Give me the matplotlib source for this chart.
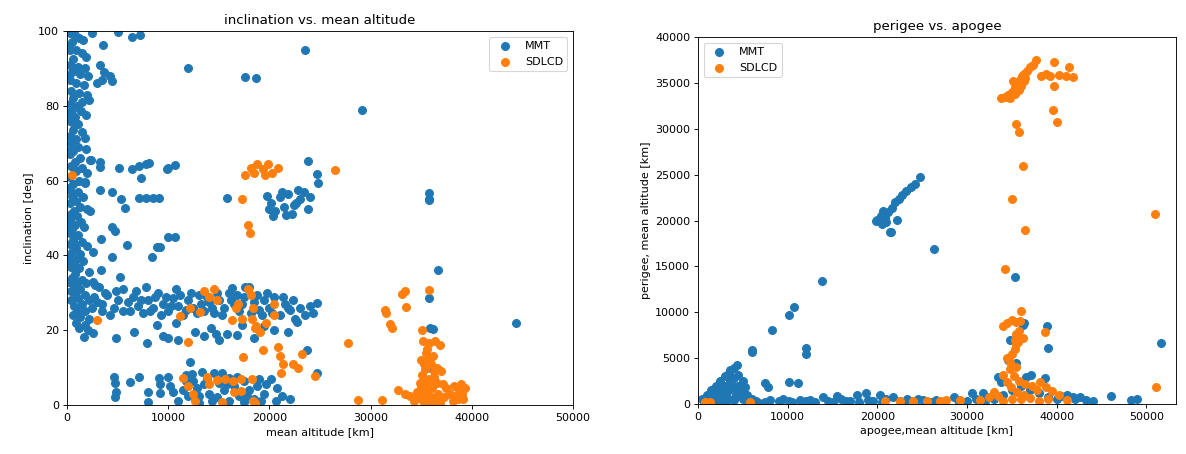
import matplotlib
matplotlib.use("Agg")
import matplotlib.pyplot as plt
import numpy as np

# (mean altitude [km], inclination [deg])
mmt_incl = [
	# low orbit strip
	(300,99.5),(800,99),(1200,98),(500,97),(1600,97.5),(300,95),(900,95),(1500,94),(600,92.5),(1900,93),(300,91),(1100,90.5),(1800,90),
	(500,89),(1300,88.5),(2100,88),(300,87),(900,86),(1700,85.5),(400,84),(1200,83.5),(2000,83),(600,82),(1500,81),(300,80.5),(1000,80),(2200,81.5),
	(500,79),(1400,78.5),(800,77),(1900,77.5),(300,76),(1100,75),(600,73.5),(1500,73),(300,72),(900,71),(1800,71.5),(400,70),
	(1100,69),(600,68),(1900,68.5),(300,67),(1300,66),(800,65),(2400,65.5),(400,64),(1500,63.5),(900,62.5),(2000,62),(300,61),(1200,60),(1800,59.5),
	(600,59),(300,57.5),(1100,57),(500,56),(1600,55.5),(900,54.5),(300,54),(1300,53),(2000,52.5),(700,52),(2300,52),(400,51),(1000,50.5),
	(300,49.5),(1400,49),(800,48),(500,47),(1700,47.5),(300,46),(1100,45.5),(600,44),(1500,43.5),(300,43),(900,42),(2000,42.5),(500,41),(1300,40.5),
	(300,39.5),(1000,39),(700,38),(1600,38.5),(400,37),(1200,36.5),(800,35),(2200,35.5),(500,34),(1500,33.5),(1000,33),(2600,33),(700,32),(1900,32.5),(3200,31.5),(1300,31),(400,30.5),
	(800,30),(1800,29.5),(2700,29),(1100,28.5),(400,28),(2200,28),(1500,27),(3000,27.5),(700,26.5),(2500,26),(1000,25.5),(1800,25),(3500,25),(600,24),(1300,23.5),(2200,23),(900,22),(1800,21.5),(1200,20.5),(2100,20),(1700,18.3),(2600,19.3),
	(200,96),(200,88),(200,78),(200,68),(200,58),(200,48),(200,38),(200,33),(700,90),(700,75),(700,63),(700,43),
	# band 23-32 deg
	(3500,27),(4000,29.5),(4600,26),(5000,28),(5500,25),(6000,27.5),(6500,29),(7000,26.5),(7500,24.5),(8000,28),(8500,26),(9000,30),(9500,27),(10000,25),
	(10500,28.5),(11000,26.5),(11500,24),(12000,28),(12500,26),(13000,29.5),(13500,25),(14000,27.5),(14500,24.5),(15000,28),(15500,26),(16000,30),(16500,27),
	(17000,25),(17500,29),(18000,31.5),(18500,27.5),(19000,25.5),(19500,28),(20000,26),(20500,29),(21000,24),(21500,27),(22000,25.5),(22500,23),(23000,26),
	(24700,27.3),(24300,24.5),(22700,22.3),(10800,30.9),(16300,31.2),(17600,31.5),(5500,31),(7800,31.5),(2800,32),(4200,24),
	(3800,30),(4800,30.5),(6200,25),(6800,30.5),(7300,28),(8200,25),(8700,29),(9300,24),(9800,29),(10300,26.5),(11200,29.5),(11800,25.5),(12300,30),
	(12800,24.5),(13200,27),(13800,29),(14300,26),(14800,30),(15300,24),(16200,28),(16800,29.5),(17300,27),(18200,24.5),(18800,29.5),(19300,24),
	(19800,30),(20300,24.5),(21300,29),(21800,26),(22300,28),(23500,24),(24000,26.5),
	# band 15-22 deg
	(8900,21.4),(10800,21.8),(12600,19.6),(6600,19.6),(4800,17.8),(7900,16.5),(10000,18),(11000,17.5),(13500,18.5),(15000,17.5),(15800,19),(14200,20.5),
	(16800,18.8),(18500,18),(19500,21),(20500,20),(23700,14.7),(12200,11.6),(24700,8.5),(21800,19.5),(9500,18.5),(14700,19),(17300,21.5),
	# band 0-8 deg
	(4600,7.4),(4700,6),(4800,3.5),(4700,2.2),(6200,6.2),(7100,7.4),(8000,3.6),(8000,0.8),(9100,7.1),(9200,5.7),(9200,3.2),(10200,5),(11800,6.5),(12400,8.2),
	(13300,8.8),(14500,8.5),(16000,7.2),(15000,6),(13500,5.5),(14000,3),(12000,2.5),(11000,1),(15500,4),(16500,5),(17000,2.5),(17500,6.5),(18000,4),(18500,1.5),
	(19000,7),(19500,3),(16000,1),(13000,0.5),(20700,1),(22000,1.5),(19700,5.5),(10500,3.5),(12800,4.5),
	(10000,7.5),(11500,4),(12500,6.5),(13800,7),(14800,2),(15800,5.5),(16800,7.5),(17800,2.5),(18800,5),(19200,1),(20200,7),(20800,4.5),(21200,2.5),
	(14300,1),(13000,2.5),(11800,8),(17500,0.7),(15300,8.5),
	# high inclination
	(2500,99.5),(5000,99.7),(6400,98.4),(7200,99),(3600,96.3),(23500,95),(12000,90),(17600,87.7),(18700,87.4),(3300,91),(3700,89),(4200,88),(3500,87),(4400,86.5),(3000,86),
	(2300,65.5),(3300,65),(3300,63.6),(5100,63.4),(6400,63),(7100,64),(7800,64.5),(8100,64.7),(7300,60.7),(10000,63.4),(10700,64.2),(9900,63.2),(23800,65.2),(24700,61.8),(24800,59.4),
	(1800,59.4),(3300,57.5),(4400,57),(5300,55),(5700,52.7),(7100,55.3),(7800,55.3),(8500,55.3),(9100,55.3),(15800,55.3),
	(19800,56),(20200,54),(20600,52),(21000,55.5),(21400,53),(21800,56.5),(22200,51),(22600,54),(23000,55),(23400,57),(23800,52.5),(20400,50.5),(21200,57),
	(22800,57.5),(24000,55.5),(20000,52.5),(21600,50.8),(22400,53.5),
	(4400,47.7),(4750,46.4),(3400,44.5),(5900,42.8),(2600,41),(4400,39.7),(8900,42.3),(9200,42.3),(8400,39.5),(10000,45),(10700,45),(3400,36.1),(5200,34.1),
	(29180,78.9),(35800,56.7),(35800,55.2),(35800,54.8),(36700,36.1),(35800,28.5),(35900,20.5),(36200,20.2),(44400,21.8),(35500,5),(36500,2),(36000,10),
]

sdlcd_incl = [
	(500,61.5),(17600,61.5),(18200,63.5),(18800,64.5),(19400,63),(19900,64.5),(20300,62),(20900,63.5),(18500,62),(19600,61.5),(26500,62.8),
	(17300,55),(17900,48.1),(18100,45.9),(3000,22.7),(13500,30.5),(14000,29),(14500,31),(14800,28),(12200,25.8),(11200,23.8),(13100,24.9),(12000,16.9),
	(16300,22.7),(16700,26),(16900,27.1),(17300,23),(17900,31),(18200,29.5),(18400,26),(18300,23),(18700,21),(19100,19.5),(18600,20.5),(19400,14.7),
	(19700,22),(20500,27),(20500,24),(20900,15.5),(21000,13),(21300,11),(21100,8.5),(22300,11),(22800,10),(23200,13.5),(24500,7.8),(17400,12.9),
	(11500,7.3),(12000,5),(12500,2.8),(12600,1),(13800,7.5),(14800,6.8),(15600,7),(16400,6.5),(17200,7),(18300,7),(15300,0.8),(18400,1),(18600,0.5),
	(16500,3.5),(17200,3.8),(14000,5.5),
	(35800,30.7),(33100,29.8),(33400,30.6),(31400,25.4),(31500,24.7),(33500,26.1),(31900,21.6),(32100,20.5),(35100,20),(27800,16.6),(28800,1.3),(31100,1.3),
	(35200,17),(35800,16.5),(36400,17),(36900,16),(35500,14),(36200,13),(35000,12),(36000,11),(35400,9.5),(36600,10),(35100,8),(35800,7),(36300,7.5),
	(34900,6),(35500,5),(36100,4.5),(34600,3.5),(35300,2.5),(36000,2),(36700,3),(35200,1),(35800,0.5),(36400,1),(37000,9),(37200,5.5),(32700,4),(33400,3),
	(33900,2.5),(37500,4.5),(38200,5),(38700,4),(39000,3),(38600,1.5),(38200,2.5),(36900,0.5),(34300,1),
	(35600,15),(35300,11),(36300,9),(35700,12),(35200,6.5),(36200,5.8),(35600,3.5),(35000,4.5),(36600,6),(35900,1.5),(34800,2),(36800,1.8),(37300,2.2),
	(37800,3),(38900,5.5),(39300,4.5),(38100,1),(39100,1.5),
]

# (apogee [km], perigee [km])
mmt_apsis = [
	(500,500),(1000,1000),(1500,1500),(2000,2000),(2500,2500),(3000,3000),(3500,3400),(4000,3900),(4300,4300),(3570,3700),
	(1500,300),(2500,800),(3500,1500),(4500,2000),(5500,1000),(6500,300),(3000,200),(5000,500),(2000,1200),(4000,2800),(5000,2500),(6000,600),
	(4500,3200),(3500,2200),(2000,300),(1000,200),(4200,1000),(5200,1800),(3000,1200),(6800,100),(4000,400),(2800,1800),(700,100),
	(1500,800),(2500,1500),(3000,2000),(3500,2800),(4000,1800),(4500,1200),(5000,1500),(5500,400),(3500,600),(2500,200),(6200,150),
	(6000,5900),(6000,5700),(8200,8050),(10170,9700),(10700,10600),(13850,13440),(12100,6060),(12100,5500),(7460,2250),(7840,1890),
	(10170,2430),(11180,2250),(21400,18780),(26330,16890),
	(20000,20100),(20400,20500),(20800,20300),(21200,20900),(21600,21400),(22000,22000),(22400,22300),(22800,22800),(23200,23200),(23700,23700),
	(24200,24000),(24700,24700),(21000,19800),(21500,18800),(20500,19600),(22200,20100),(19800,20000),(20600,21000),
	(8020,400),(9500,500),(11370,400),(12480,450),(13960,800),(15450,900),(17680,1000),(18790,1200),(20270,1000),(21760,800),(23250,500),
	(25100,400),(26590,450),(10200,300),(14500,300),(16500,350),(19500,300),(22500,350),(24000,300),(28500,800),(30500,1240),(31800,1160),
	(7500,200),(9000,300),(10500,200),(12000,300),(13000,250),(15000,200),(16000,500),(17000,300),(18000,200),(19000,400),(20500,250),(21000,500),
	(23000,200),(24500,600),(26000,250),(27500,300),(29000,400),(30000,300),(31000,500),(32000,300),(33000,500),(34000,1000),(35000,1500),(36000,2000),
	(37000,1500),(38000,1200),(39000,800),(40500,900),(42000,500),(44000,300),
	(35300,13880),(36200,8600),(38900,8500),(39000,6140),(51650,6610),(46080,870),(48900,540),(48300,430),(37170,3160),(36600,2980),(38650,2800),
	(33800,2420),(33460,2980),(34570,4800),(35500,4440),(42600,800),(43300,440),(41100,1020),(41800,800),(34750,7020),(36400,8840),(40000,500),
]

sdlcd_apsis = [
	(33800,33300),(34200,33500),(34600,33700),(35000,34000),(35300,34500),(35600,35000),(35900,35300),(36100,35800),(36400,36000),(36700,36300),
	(37000,36700),(37300,37000),(37700,37500),(35400,33800),(35800,34200),(36000,34700),(34800,33400),(36300,35200),(35100,35200),(36500,35500),
	(38300,35800),(38800,36000),(39300,35700),(40200,35900),(41000,35800),(41800,35600),(39700,37240),(41370,36770),(39700,34650),(39590,32050),
	(40030,30780),(35430,30520),(35760,29610),(36240,25980),(35050,22290),(50900,20710),
	(36500,18960),(34280,14700),(36060,10130),(34000,8550),(34500,8800),(35000,9200),(35500,8900),(35950,9000),(38650,7870),(35500,6500),(35500,7600),(35400,7000),
	(34750,4600),(34000,3160),(34400,2400),(34900,1850),(35600,1300),(38100,2430),(38800,1850),(39500,1400),(40300,1000),(41100,440),(33000,1300),
	(32500,800),(31400,400),(29200,400),(27700,400),(36000,500),(37000,700),(38000,300),(39000,600),(34000,300),(51100,1890),
	(34500,5000),(35000,5500),(34800,3800),(35200,3000),(35800,2500),(36500,2200),(37200,2000),(37800,1500),(36300,1000),(35000,600),(33500,900),
	(35500,4000),(35300,6000),(35700,6800),(35800,8000),(36200,7200),
	(20800,300),(22500,300),(24000,300),(25500,300),(27000,350),(780,200),(1340,200),(5800,200),
]

mmt_alt, mmt_inc = np.array(mmt_incl).T
sd_alt, sd_inc = np.array(sdlcd_incl).T
mmt_apo, mmt_peri = np.array(mmt_apsis).T
sd_apo, sd_peri = np.array(sdlcd_apsis).T

fig = plt.figure(figsize=(14.825, 5.675), dpi=80)

ax1 = fig.add_axes([0.0565, 0.108, 0.4266, 0.8237])
ax1.scatter(mmt_alt, mmt_inc, s=50, label="MMT")
ax1.scatter(sd_alt, sd_inc, s=50, label="SDLCD")
ax1.set_xlim(0, 50000)
ax1.set_ylim(0, 100)
ax1.set_title("inclination vs. mean altitude")
ax1.set_xlabel("mean altitude [km]")
ax1.set_ylabel("inclination [deg]")
ax1.legend(loc="upper right")

ax2 = fig.add_axes([0.5885, 0.1101, 0.4031, 0.8084])
ax2.scatter(mmt_apo, mmt_peri, s=50, label="MMT")
ax2.scatter(sd_apo, sd_peri, s=50, label="SDLCD")
ax2.set_xlim(0, 53300)
ax2.set_ylim(0, 40000)
ax2.set_title("perigee vs. apogee")
ax2.set_xlabel("apogee,mean altitude [km]")
ax2.set_ylabel("perigee, mean altitude [km]")
ax2.legend(loc="upper left")

fig.savefig("out.png", dpi=80)
